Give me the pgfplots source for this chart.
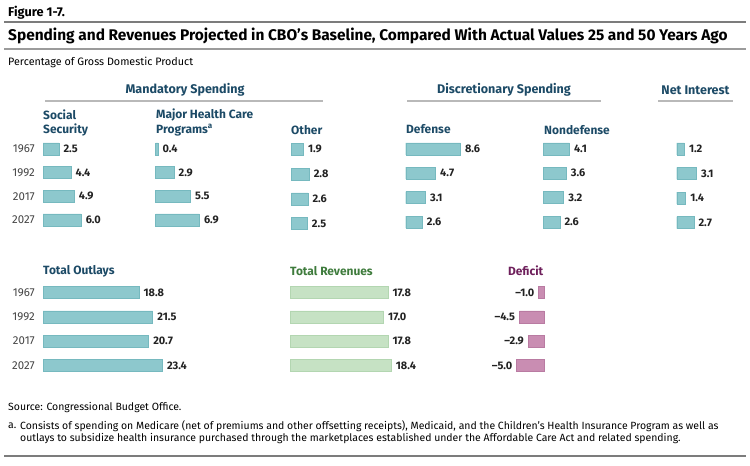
\documentclass[border=0pt]{standalone}
\usepackage{fontspec}
\setmainfont{Fira Sans}
\usepackage{pgfplots}
\pgfplotsset{compat=1.18}

\definecolor{barteal}{HTML}{8DC8CD}
\definecolor{edgeteal}{HTML}{76B9BF}
\definecolor{bargreen}{HTML}{C6E2C4}
\definecolor{edgegreen}{HTML}{B3D6B1}
\definecolor{barpink}{HTML}{C98DB2}
\definecolor{edgepink}{HTML}{B97BA2}
\definecolor{hdblue}{HTML}{1C4A66}
\definecolor{hdgreen}{HTML}{3E7B3C}
\definecolor{hdpurple}{HTML}{6E1F5B}
\definecolor{rulegray}{HTML}{9B9B9B}
\definecolor{valtext}{HTML}{222222}

\newcommand{\fs}[1]{\fontsize{#1}{#1}\selectfont}

\pgfplotsset{
  panel/.style={
    xbar, clip=false, anchor=north west,
    hide axis,
    y dir=reverse, ymin=0.5, ymax=4.5, xmin=0, xmax=10,
    x=6.35bp, y=24bp,
    bar width=12bp,
    point meta=x,
    nodes near coords={\pgfmathprintnumber[fixed,fixed zerofill,precision=1,assume math mode=true]{\pgfplotspointmeta}},
    every node near coord/.append style={font=\bfseries\fs{11}, text=valtext, inner sep=0pt, xshift=4.5bp},
  },
  yearaxis/.style={
    hide axis=false,
    axis x line=none, axis y line=left, y axis line style={draw=none},
    ytick={1,2,3,4}, yticklabels={1967,1992,2017,2027},
    major tick length=0pt,
    yticklabel style={font=\fs{11.5}, text=valtext!85, inner sep=0pt, xshift=-8bp},
  },
  tealbar/.style={fill=barteal, draw=edgeteal, line width=0.4bp},
}

\begin{document}
\begin{tikzpicture}
\useasboundingbox (0bp,0bp) rectangle (750bp,-466bp);

% header
\node[anchor=west, font=\bfseries\fs{12.8}, inner sep=0pt] at (8bp,-12.5bp) {Figure 1-7.};
\draw[rulegray!80!black, line width=2bp] (4bp,-22bp) -- (746bp,-22bp);
\node[anchor=west, font=\bfseries\fs{15.5}, inner sep=0pt] at (8bp,-35.5bp) {Spending and Revenues Projected in CBO’s Baseline, Compared With Actual Values 25 and 50 Years Ago};
\draw[rulegray, line width=1.3bp] (4bp,-49bp) -- (746bp,-49bp);
\node[anchor=west, font=\fs{10.8}, inner sep=0pt] at (8bp,-62bp) {Percentage of Gross Domestic Product};

% group headings
\node[font=\bfseries\fs{12.6}, text=hdblue] at (185bp,-90bp) {Mandatory Spending};
\draw[rulegray!70, line width=1.3bp] (45bp,-101bp) -- (323bp,-101bp);
\node[font=\bfseries\fs{12.6}, text=hdblue] at (504bp,-90bp) {Discretionary Spending};
\draw[rulegray!70, line width=1.3bp] (407bp,-101bp) -- (601bp,-101bp);
\node[font=\bfseries\fs{12.6}, text=hdblue] at (695.5bp,-90bp) {Net Interest};
\draw[rulegray!70, line width=1.3bp] (658bp,-101bp) -- (733bp,-101bp);

% panel headings
\begin{scope}[every node/.style={anchor=west, font=\bfseries\fs{12}, text=hdblue, inner sep=0pt}]
\node at (43bp,-114.5bp) {Social};
\node at (43bp,-130bp) {Security};
\node at (156bp,-114.5bp) {Major Health Care};
\node at (156bp,-130bp) {Programs\textsuperscript{a}};
\node at (291bp,-130bp) {Other};
\node at (406bp,-129.5bp) {Defense};
\node at (544bp,-130bp) {Nondefense};
\node at (43bp,-271.5bp) {Total Outlays};
\node[text=hdgreen] at (290bp,-271.5bp) {Total Revenues};
\node[anchor=east, text=hdpurple] at (543.5bp,-270.5bp) {Deficit};
\end{scope}

% Social Security
\begin{axis}[panel, yearaxis, at={(43bp,-137bp)}, y=23.7bp]
\addplot[tealbar] coordinates {(2.5,1) (4.4,2) (4.9,3) (6.0,4)};
\end{axis}
% Major health care programs
\begin{axis}[panel, at={(155.5bp,-137bp)}, y=23.7bp]
\addplot[tealbar] coordinates {(0.4,1) (2.9,2) (5.5,3) (6.9,4)};
\end{axis}
% Other
\begin{axis}[panel, at={(291.3bp,-137bp)}, y=24.7bp]
\addplot[tealbar] coordinates {(1.9,1) (2.8,2) (2.6,3) (2.5,4)};
\end{axis}
% Defense
\begin{axis}[panel, at={(405.7bp,-136.6bp)}, y=24.4bp]
\addplot[tealbar] coordinates {(8.6,1) (4.7,2) (3.1,3) (2.6,4)};
\end{axis}
% Nondefense
\begin{axis}[panel, at={(543.3bp,-136.6bp)}, y=24.4bp]
\addplot[tealbar] coordinates {(4.1,1) (3.6,2) (3.2,3) (2.6,4)};
\end{axis}
% Net interest
\begin{axis}[panel, at={(676.7bp,-136.5bp)}, y=24.6bp]
\addplot[tealbar] coordinates {(1.2,1) (3.1,2) (1.4,3) (2.7,4)};
\end{axis}

% Total outlays
\begin{axis}[panel, yearaxis, at={(43bp,-280.3bp)}, y=24.3bp, x=5.1bp, xmax=25]
\addplot[tealbar] coordinates {(18.8,1) (21.5,2) (20.7,3) (23.4,4)};
\end{axis}
% Total revenues
\begin{axis}[panel, at={(290bp,-280.3bp)}, y=24.3bp, x=5.5bp, xmax=20]
\addplot[fill=bargreen, draw=edgegreen, line width=0.4bp] coordinates {(17.8,1) (17.0,2) (17.8,3) (18.4,4)};
\end{axis}
% Deficit
\begin{axis}[panel, anchor=north east, at={(544bp,-280.3bp)}, y=24.3bp, x=5.5bp, xmin=-6, xmax=0,
  point meta=explicit symbolic, nodes near coords,
  every node near coord/.append style={anchor=east, xshift=-8.5bp}]
\addplot[fill=barpink, draw=edgepink, line width=0.4bp] coordinates {(-1.0,1) [–1.0] (-4.5,2) [–4.5] (-2.9,3) [–2.9] (-5.0,4) [–5.0]};
\end{axis}

% notes
\begin{scope}[every node/.style={anchor=west, font=\fs{10.5}, inner sep=0pt}]
\node at (8bp,-408bp) {Source: Congressional Budget Office.};
\node at (8bp,-426bp) {a.};
\node at (20bp,-426bp) {Consists of spending on Medicare (net of premiums and other offsetting receipts), Medicaid, and the Children’s Health Insurance Program as well as};
\node at (20bp,-438.5bp) {outlays to subsidize health insurance purchased through the marketplaces established under the Affordable Care Act and related spending.};
\end{scope}
\draw[rulegray!80!black, line width=2.2bp] (4bp,-456bp) -- (746bp,-456bp);
\end{tikzpicture}
\end{document}
